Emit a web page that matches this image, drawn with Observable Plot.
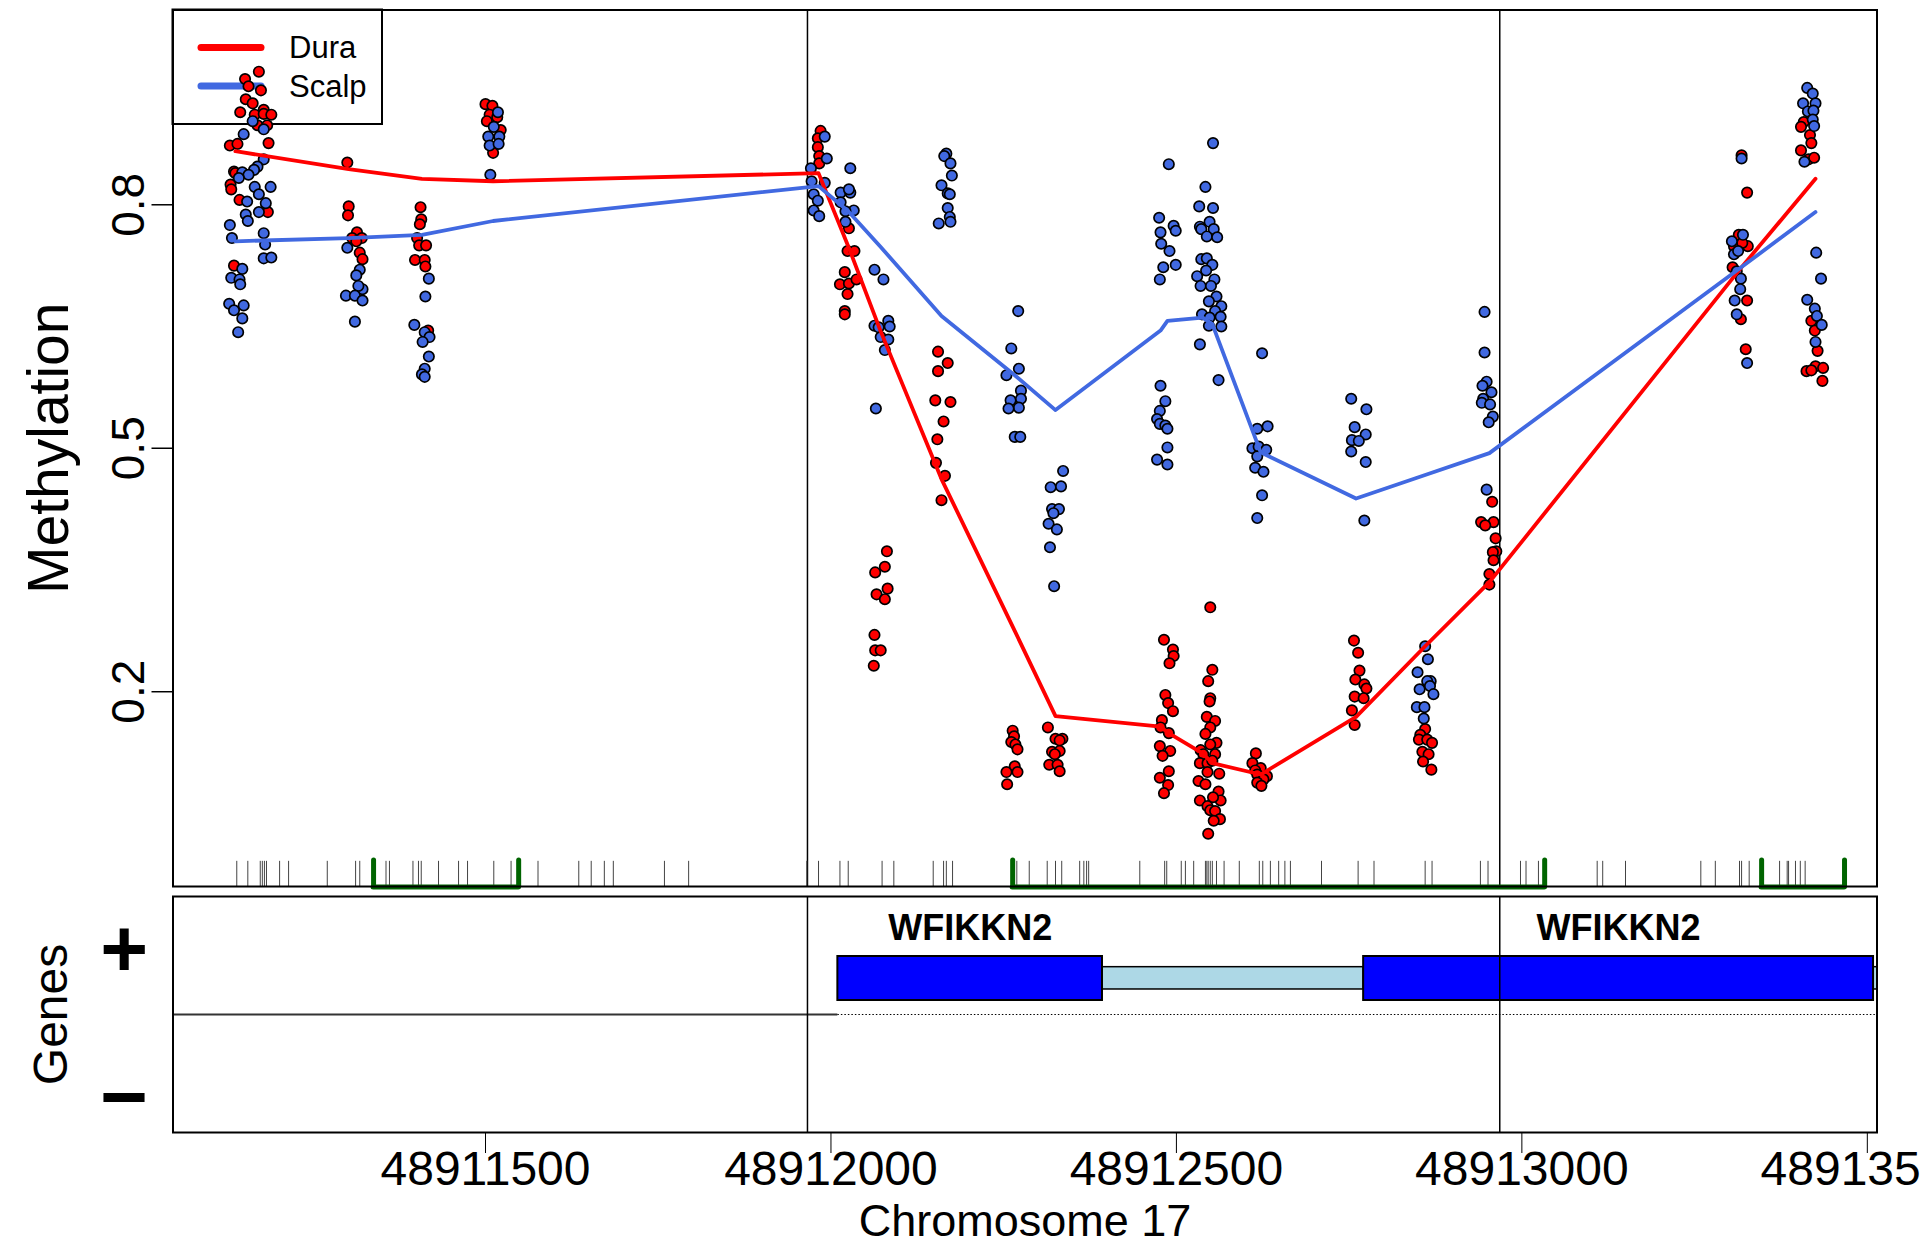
<!DOCTYPE html>
<html><head><meta charset="utf-8">
<script src="https://cdn.jsdelivr.net/npm/d3@7"></script>
<script src="https://cdn.jsdelivr.net/npm/@observablehq/plot@0.6"></script>
<style>
html,body{margin:0;padding:0;background:#fff;}
#wrap{position:relative;width:1920px;height:1245px;overflow:hidden;background:#fff;}
#wrap svg{position:absolute;left:0;}
</style></head><body><div id="wrap"></div>
<script>
// ---------------- data ----------------
const duraPoints = [
[48911172,0.964],[48911152,0.955],[48911157,0.946],[48911175,0.941],[48911153,0.930],[48911163,0.925],[48911145,0.914],[48911166,0.911],[48911179,0.917],[48911179,0.912],[48911190,0.911],[48911170,0.898],[48911184,0.898],[48911186,0.876],[48911130,0.873],[48911141,0.875],[48911136,0.841],[48911138,0.839],[48911131,0.825],[48911132,0.819],[48911144,0.806],[48911185,0.791],[48911136,0.725],
[48911300,0.852],[48911302,0.798],[48911301,0.787],[48911314,0.766],[48911307,0.759],[48911321,0.759],[48911313,0.755],[48911318,0.741],[48911322,0.733],
[48911406,0.797],[48911407,0.782],[48911405,0.776],[48911401,0.759],[48911404,0.750],[48911414,0.750],[48911398,0.732],[48911412,0.732],[48911413,0.724],[48911417,0.645],
[48911500,0.924],[48911510,0.922],[48911506,0.911],[48911502,0.903],[48911517,0.908],[48911522,0.892],[48911511,0.864],
[48911985,0.891],[48911981,0.882],[48911981,0.871],[48911983,0.860],[48911983,0.851],
[48912026,0.771],[48912024,0.743],[48912034,0.743],[48912020,0.717],[48912013,0.702],[48912026,0.703],[48912037,0.708],[48912024,0.690],[48912020,0.669],[48912020,0.665],
[48912081,0.373],[48912078,0.354],[48912064,0.347],[48912082,0.327],[48912066,0.320],[48912078,0.314],[48912063,0.270],[48912064,0.251],[48912072,0.251],[48912062,0.232],
[48912155,0.619],[48912169,0.605],[48912155,0.595],[48912151,0.559],[48912173,0.557],[48912163,0.533],[48912154,0.511],[48912152,0.482],[48912165,0.466],[48912160,0.436],
[48912263,0.152],[48912265,0.145],[48912261,0.138],[48912267,0.135],[48912270,0.129],[48912266,0.108],[48912254,0.101],[48912270,0.101],[48912255,0.086],
[48912314,0.156],[48912325,0.142],[48912335,0.142],[48912331,0.140],[48912320,0.126],[48912331,0.127],[48912324,0.123],[48912316,0.110],[48912328,0.110],[48912331,0.102],
[48912482,0.264],[48912495,0.252],[48912496,0.244],[48912490,0.235],[48912484,0.196],[48912488,0.186],[48912495,0.176],[48912479,0.165],[48912477,0.156],[48912489,0.149],[48912476,0.133],[48912491,0.127],[48912480,0.121],[48912489,0.102],[48912476,0.094],[48912488,0.085],[48912482,0.075],
[48912549,0.304],[48912552,0.227],[48912546,0.213],[48912549,0.192],[48912548,0.188],[48912544,0.169],[48912556,0.164],[48912549,0.156],[48912542,0.148],[48912558,0.137],[48912549,0.135],[48912535,0.128],[48912539,0.123],[48912556,0.123],[48912534,0.112],[48912545,0.112],[48912552,0.115],[48912545,0.101],[48912562,0.099],[48912532,0.090],[48912542,0.086],[48912561,0.077],[48912534,0.066],[48912564,0.066],[48912553,0.070],[48912545,0.059],[48912549,0.054],[48912556,0.053],[48912563,0.043],[48912554,0.041],[48912546,0.025],
[48912615,0.124],[48912610,0.112],[48912622,0.106],[48912614,0.103],[48912631,0.096],[48912617,0.098],[48912626,0.092],[48912617,0.088],[48912623,0.084],
[48912757,0.263],[48912763,0.248],[48912765,0.226],[48912759,0.215],[48912772,0.209],[48912775,0.204],[48912758,0.194],[48912771,0.192],[48912754,0.177],[48912758,0.159],
[48912860,0.154],[48912853,0.147],[48912851,0.141],[48912863,0.141],[48912870,0.137],[48912856,0.126],[48912865,0.123],[48912857,0.114],[48912869,0.104],
[48912957,0.434],[48912941,0.409],[48912959,0.409],[48912947,0.405],[48912962,0.389],[48912963,0.373],[48912958,0.372],[48912959,0.362],[48912953,0.345],[48912953,0.332],
[48913318,0.861],[48913326,0.815],[48913314,0.763],[48913307,0.749],[48913327,0.749],[48913319,0.753],[48913305,0.723],[48913326,0.682],[48913317,0.659],[48913324,0.622],
[48913408,0.902],[48913404,0.896],[48913417,0.886],[48913419,0.876],[48913404,0.867],[48913415,0.856],[48913423,0.858],[48913419,0.657],[48913424,0.645],[48913428,0.620],[48913425,0.601],[48913412,0.595],[48913419,0.596],[48913436,0.599],[48913435,0.583]
];
const scalpPoints = [
[48911163,0.903],[48911179,0.893],[48911150,0.887],[48911179,0.856],[48911170,0.847],[48911165,0.843],[48911148,0.840],[48911157,0.837],[48911143,0.833],[48911166,0.822],[48911189,0.822],[48911172,0.813],[48911182,0.802],[48911155,0.804],[48911153,0.788],[48911172,0.791],[48911156,0.780],[48911130,0.775],[48911133,0.759],[48911179,0.765],[48911181,0.751],[48911179,0.734],[48911190,0.735],[48911148,0.721],[48911132,0.710],[48911144,0.708],[48911145,0.702],[48911129,0.678],[48911136,0.670],[48911150,0.676],[48911148,0.660],[48911142,0.643],
[48911300,0.747],[48911318,0.720],[48911313,0.713],[48911322,0.696],[48911316,0.700],[48911298,0.688],[48911311,0.688],[48911322,0.682],[48911311,0.656],
[48911418,0.709],[48911413,0.687],[48911397,0.652],[48911412,0.643],[48911419,0.637],[48911409,0.631],[48911418,0.613],[48911412,0.598],[48911408,0.591],[48911412,0.588],
[48911518,0.914],[48911512,0.896],[48911504,0.884],[48911520,0.884],[48911506,0.873],[48911519,0.875],[48911507,0.837],
[48911991,0.884],[48911994,0.857],[48911971,0.845],[48911972,0.829],[48911991,0.827],[48911975,0.813],[48911981,0.805],[48911975,0.793],[48911983,0.786],
[48912028,0.845],[48912014,0.815],[48912028,0.815],[48912026,0.819],[48912014,0.803],[48912033,0.793],[48912021,0.792],[48912021,0.779],
[48912063,0.720],[48912076,0.708],[48912063,0.651],[48912069,0.649],[48912083,0.657],[48912085,0.650],[48912072,0.637],[48912083,0.634],[48912078,0.621],[48912065,0.549],
[48912167,0.863],[48912164,0.860],[48912173,0.851],[48912175,0.836],[48912160,0.824],[48912169,0.814],[48912172,0.813],[48912169,0.796],[48912172,0.785],[48912156,0.777],[48912173,0.779],
[48912271,0.669],[48912261,0.623],[48912272,0.598],[48912254,0.590],[48912275,0.571],[48912260,0.559],[48912275,0.561],[48912272,0.550],[48912257,0.549],[48912266,0.514],[48912274,0.514],
[48912336,0.472],[48912318,0.452],[48912333,0.453],[48912320,0.425],[48912330,0.425],[48912322,0.420],[48912315,0.407],[48912327,0.400],[48912317,0.378],[48912323,0.330],
[48912489,0.850],[48912475,0.784],[48912496,0.774],[48912499,0.768],[48912477,0.766],[48912478,0.752],[48912490,0.743],[48912499,0.726],[48912481,0.723],[48912476,0.708],[48912477,0.577],[48912484,0.558],[48912476,0.546],[48912472,0.536],[48912476,0.530],[48912484,0.528],[48912487,0.524],[48912487,0.501],[48912472,0.486],[48912487,0.480],
[48912553,0.876],[48912542,0.822],[48912533,0.798],[48912553,0.796],[48912548,0.779],[48912534,0.773],[48912536,0.770],[48912554,0.770],[48912544,0.761],[48912559,0.760],[48912536,0.733],[48912544,0.734],[48912552,0.726],[48912530,0.712],[48912543,0.719],[48912555,0.708],[48912535,0.700],[48912550,0.700],[48912558,0.687],[48912547,0.681],[48912565,0.675],[48912537,0.665],[48912556,0.669],[48912548,0.661],[48912564,0.662],[48912547,0.651],[48912565,0.650],[48912534,0.628],[48912561,0.584],
[48912624,0.617],[48912617,0.524],[48912632,0.527],[48912610,0.500],[48912619,0.502],[48912630,0.498],[48912617,0.490],[48912614,0.476],[48912626,0.471],[48912624,0.442],[48912617,0.414],
[48912753,0.561],[48912775,0.548],[48912758,0.526],[48912774,0.517],[48912754,0.510],[48912764,0.509],[48912753,0.496],[48912774,0.483],[48912772,0.411],
[48912860,0.256],[48912864,0.240],[48912849,0.224],[48912868,0.213],[48912863,0.213],[48912852,0.203],[48912867,0.207],[48912872,0.197],[48912848,0.181],[48912859,0.181],[48912858,0.167],
[48912946,0.668],[48912946,0.618],[48912949,0.582],[48912943,0.577],[48912956,0.569],[48912944,0.561],[48912942,0.556],[48912954,0.554],[48912958,0.539],[48912952,0.532],[48912949,0.449],
[48913318,0.857],[48913320,0.763],[48913304,0.755],[48913307,0.739],[48913313,0.743],[48913311,0.718],[48913317,0.709],[48913316,0.696],[48913308,0.682],[48913311,0.665],[48913326,0.605],
[48913413,0.944],[48913421,0.937],[48913407,0.925],[48913425,0.925],[48913414,0.915],[48913422,0.916],[48913421,0.905],[48913423,0.897],[48913409,0.853],[48913426,0.741],[48913433,0.709],[48913413,0.683],[48913424,0.672],[48913427,0.663],[48913434,0.652],[48913425,0.631]
];
const lineBp    = [48911138,48911302,48911408,48911511,48911982,48912025,48912072,48912160,48912266,48912325,48912477,48912487,48912538,48912552,48912622,48912760,48912860,48912953,48913316,48913425];
const duraLine  = [0.866,0.844,0.832,0.829,0.839,0.749,0.644,0.462,0.275,0.170,0.157,0.150,0.124,0.112,0.098,0.169,0.256,0.335,0.721,0.832];
const scalpLine = [0.755,0.759,0.763,0.780,0.823,0.792,0.748,0.663,0.590,0.547,0.645,0.657,0.661,0.653,0.495,0.438,0.467,0.494,0.722,0.791];
const cpgBp = [48911140,48911156,48911174,48911177,48911180,48911183,48911202,48911215,48911271,48911312,48911318,48911356,48911361,48911395,48911403,48911407,48911432,48911461,48911474,48911512,48911537,48911576,48911635,48911653,48911672,48911685,48911759,48911794,48911965,48911982,48912013,48912025,48912074,48912091,48912148,48912163,48912167,48912176,48912269,48912287,48912313,48912325,48912334,48912360,48912366,48912370,48912373,48912447,48912483,48912486,48912507,48912513,48912525,48912542,48912544,48912546,48912549,48912552,48912558,48912569,48912591,48912620,48912625,48912636,48912648,48912657,48912665,48912710,48912763,48912786,48912860,48912870,48912940,48912951,48912998,48913006,48913024,48913109,48913117,48913150,48913259,48913280,48913315,48913318,48913329,48913373,48913384,48913386,48913396,48913403,48913410];
const islandStart = [48911338,48912263,48913347];
const islandEnd   = [48911548,48913033,48913467];
const regionBounds = [48911966,48912968];
const exonStart = [48912010,48912771];
const exonEnd   = [48912393,48913509];
const intronStart = [48912393,48913509];
const intronEnd   = [48912771,48913600];
const geneName = "WFIKKN2";
const geneStart = 48912010;
const xTicks = [48911500,48912000,48912500,48913000,48913500];
const yTicks = [0.2,0.5,0.8];
const seriesNames = ["Dura","Scalp"];
const seriesColors = ["#FF0000","#4169E1"];

// ---------------- layout ----------------
const FONT = '"Liberation Sans", Arial, Helvetica, sans-serif';
const W = 1920, mL = 172.5, mR = 43.5;
const xDomain = [48911047.7, 48913514];
const wrap = document.getElementById("wrap");

// legend (drawn behind the points, as in the reference)
const leg = d3.create("svg").attr("width", 400).attr("height", 140)
  .style("top", "0px").style("font-family", FONT);
leg.append("rect").attr("x", 172.5).attr("y", 9.5).attr("width", 209.5).attr("height", 114.5)
  .attr("fill", "none").attr("stroke", "#000").attr("stroke-width", 2);
seriesNames.forEach((s, i) => {
  const yy = 47.5 + i * 38.5;
  leg.append("line").attr("x1", 201).attr("x2", 261).attr("y1", yy).attr("y2", yy)
    .attr("stroke", seriesColors[i]).attr("stroke-width", 7).attr("stroke-linecap", "round");
  leg.append("text").attr("x", 289).attr("y", yy).attr("dy", "0.35em")
    .attr("font-size", 31).attr("fill", "#000").text(s);
});
wrap.appendChild(leg.node());

const xy = {x: d => d[0], y: d => d[1]};
const duraLinePts = lineBp.map((b, i) => [b, duraLine[i]]);
const scalpLinePts = lineBp.map((b, i) => [b, scalpLine[i]]);
const islands = islandStart.map((s, i) => ({s, e: islandEnd[i]}));
const islandEnds = islandStart.concat(islandEnd);
const centered = {textAnchor: "middle", lineAnchor: "middle"};

const topPlot = Plot.plot({
  width: W, height: 890, marginLeft: mL, marginRight: mR, marginTop: 9.5, marginBottom: 4,
  style: {background: "transparent", fontFamily: FONT, color: "#000"},
  x: {domain: xDomain, axis: null},
  y: {domain: [-0.04, 1.04], axis: null},
  marks: [
    Plot.ruleX(regionBounds, {stroke: "#000", strokeWidth: 1.5}),
    Plot.ruleX(cpgBp, {y1: -0.009, y2: -0.04, stroke: "#444", strokeWidth: 1}),
    Plot.ruleY(islands, {x1: "s", x2: "e", y: -0.0405, stroke: "#006400", strokeWidth: 5, strokeLinecap: "round"}),
    Plot.ruleX(islandEnds, {y1: -0.008, y2: -0.0405, stroke: "#006400", strokeWidth: 5, strokeLinecap: "round"}),
    Plot.dot(duraPoints, {...xy, r: 5.2, fill: seriesColors[0], stroke: "#000", strokeWidth: 1.7}),
    Plot.dot(scalpPoints, {...xy, r: 5.2, fill: seriesColors[1], stroke: "#000", strokeWidth: 1.7}),
    Plot.line(duraLinePts, {...xy, stroke: seriesColors[0], strokeWidth: 3.8}),
    Plot.line(scalpLinePts, {...xy, stroke: seriesColors[1], strokeWidth: 3.8}),
    Plot.frame({stroke: "#000", strokeWidth: 2}),
    Plot.axisY({ticks: yTicks, tickSize: 21, tickFormat: () => "", label: null, strokeWidth: 1.5}),
    Plot.text(yTicks, {y: d => d, text: d => String(d), frameAnchor: "left", dx: -44, rotate: -90, fontSize: 46, ...centered}),
    Plot.text(["Methylation"], {text: d => d, frameAnchor: "left", dx: -123.5, rotate: -90, fontSize: 57, ...centered})
  ]
});
topPlot.style.top = "0px";
wrap.appendChild(topPlot);

const exons = exonStart.map((s, i) => ({s, e: exonEnd[i], c: (s + exonEnd[i]) / 2, name: geneName}));
const introns = intronStart.map((s, i) => ({s, e: intronEnd[i]}));

const bottomPlot = Plot.plot({
  width: W, height: 355, marginLeft: mL, marginRight: mR, marginTop: 6, marginBottom: 113,
  style: {background: "transparent", fontFamily: FONT, color: "#000"},
  x: {domain: xDomain, axis: null},
  y: {domain: [-1, 1], axis: null},
  marks: [
    Plot.ruleY([0], {x1: xDomain[0], x2: geneStart, stroke: "#333", strokeWidth: 2}),
    Plot.ruleY([0], {x1: geneStart, x2: xDomain[1], stroke: "#000", strokeWidth: 1, strokeDasharray: "1.5,2"}),
    Plot.rect(introns, {x1: "s", x2: "e", y1: 0.212, y2: 0.401, fill: "#ADD8E6", stroke: "#000", strokeWidth: 1.5, clip: true}),
    Plot.rect(exons, {x1: "s", x2: "e", y1: 0.1186, y2: 0.4915, fill: "#0000FF", stroke: "#000", strokeWidth: 2}),
    Plot.text(exons, {x: "c", y: 0.729, text: "name", fontWeight: "bold", fontSize: 36}),
    Plot.ruleX(regionBounds, {stroke: "#000", strokeWidth: 1.5}),
    Plot.frame({stroke: "#000", strokeWidth: 2}),
    Plot.axisX({ticks: xTicks, tickSize: 21, tickPadding: -3, tickFormat: d3.format("d"), fontSize: 48, label: null}),
    Plot.text(["Chromosome 17"], {text: d => d, frameAnchor: "bottom", dy: 89, fontSize: 45, ...centered}),
    Plot.text(["Genes"], {text: d => d, frameAnchor: "left", dx: -121.5, rotate: -90, fontSize: 48, ...centered}),
    Plot.text(["+"], {text: d => d, y: 0.551, frameAnchor: "left", dx: -48.8, fontSize: 82, fontWeight: "bold", ...centered}),
    Plot.text(["\u2212"], {text: d => d, y: -0.712, frameAnchor: "left", dx: -48.8, fontSize: 82, fontWeight: "bold", ...centered})
  ]
});
bottomPlot.style.top = "890px";
wrap.appendChild(bottomPlot);
</script>
</body></html>
